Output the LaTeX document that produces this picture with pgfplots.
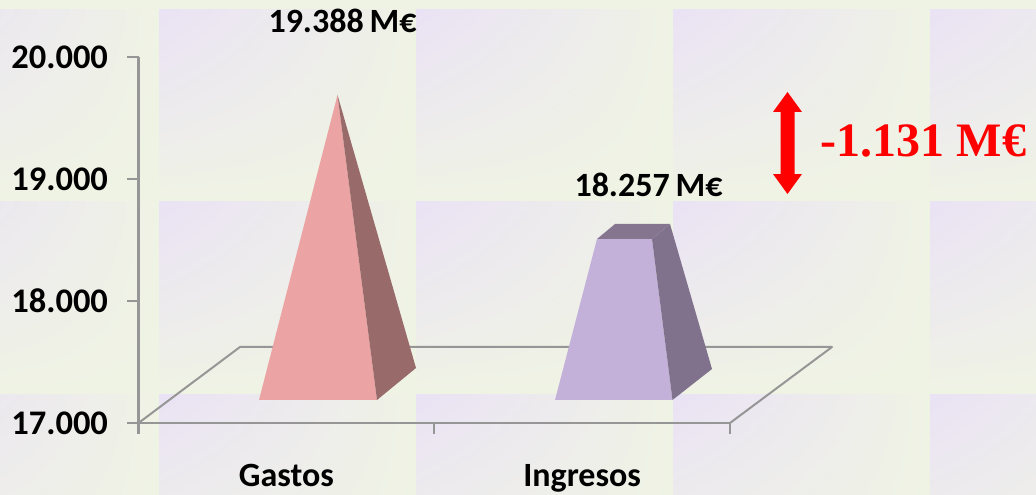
\documentclass[border=0pt]{standalone}
\usepackage{fontspec}
\setmainfont{Carlito}
\newfontfamily\serifb{Liberation Serif}
\usepackage{pgfplots}
\pgfplotsset{compat=1.18}
\usepgfplotslibrary{patchplots}
\definecolor{bggreen}{HTML}{EFF3E4}
\definecolor{bgmid}{HTML}{EEEEEA}
\definecolor{bglav}{HTML}{EAE2F5}
\definecolor{axgray}{HTML}{969696}
\definecolor{pinkf}{HTML}{EBA3A3}
\definecolor{pinks}{HTML}{996A6A}
\definecolor{purf}{HTML}{C3B1D9}
\definecolor{purs}{HTML}{80728C}
\definecolor{purt}{HTML}{85758F}
\newcommand\lab[1]{\fontsize{#1}{#1}\selectfont\bfseries}
\begin{document}
\begin{tikzpicture}[x=1pt,y=1pt]
\begin{axis}[
  at={(0pt,0pt)},anchor=south west,
  scale only axis,width=1036pt,height=495pt,
  xmin=0,xmax=1036,ymin=16409.8,ymax=20467.2,
  hide axis,
  point meta min=0,point meta max=1,
  colormap={bg}{color(0cm)=(bggreen) color(1cm)=(bgmid) color(4cm)=(bglav)},
]
\fill[bggreen] (axis cs:0,16409.8) rectangle (axis cs:1036,20467.2);
\addplot[patch,patch type=bilinear,shader=interp,forget plot,
  point meta=explicit] table[x=x,y=y,meta=c] {
x y c
-98 18811.5 0
159 18811.5 0
159 20393.4 0
-98 20393.4 1
159 18811.5 0
416 18811.5 0
416 20393.4 0
159 20393.4 1
416 18811.5 0
673 18811.5 0
673 20393.4 0
416 20393.4 1
673 18811.5 0
930 18811.5 0
930 20393.4 0
673 20393.4 1
930 18811.5 0
1187 18811.5 0
1187 20393.4 0
930 20393.4 1
-98 17229.5 0
159 17229.5 0
159 18811.5 0
-98 18811.5 1
159 17229.5 0
416 17229.5 0
416 18811.5 0
159 18811.5 1
416 17229.5 0
673 17229.5 0
673 18811.5 0
416 18811.5 1
673 17229.5 0
930 17229.5 0
930 18811.5 0
673 18811.5 1
930 17229.5 0
1187 17229.5 0
1187 18811.5 0
930 18811.5 1
-98 15647.5 0
159 15647.5 0
159 17229.5 0
-98 17229.5 1
159 15647.5 0
416 15647.5 0
416 17229.5 0
159 17229.5 1
416 15647.5 0
673 15647.5 0
673 17229.5 0
416 17229.5 1
673 15647.5 0
930 15647.5 0
930 17229.5 0
673 17229.5 1
930 15647.5 0
1187 15647.5 0
1187 17229.5 0
930 17229.5 1
};
% floor
\addplot[draw=axgray,line width=2pt,no markers,line join=round,forget plot] coordinates
 {(138.5,17000) (240,17623) (832,17623) (730,17000)};
% Gastos pyramid
\addplot[fill=pinkf,draw=none,no markers,forget plot] coordinates
 {(259,17188.5) (377,17188.5) (337.5,19688.5)} --cycle;
\addplot[fill=pinks,draw=none,no markers,forget plot] coordinates
 {(377,17188.5) (416,17450.8) (337.5,19688.5)} --cycle;
% Ingresos truncated pyramid
\addplot[fill=purf,draw=none,no markers,forget plot] coordinates
 {(555,17188.5) (672.5,17188.5) (652,18508.2) (597,18508.2)} --cycle;
\addplot[fill=purs,draw=none,no markers,forget plot] coordinates
 {(672.5,17188.5) (712,17442.6) (670,18631.1) (652,18508.2)} --cycle;
\addplot[fill=purt,draw=none,no markers,forget plot] coordinates
 {(597,18508.2) (652,18508.2) (670,18631.1) (615,18631.1)} --cycle;
% difference arrow
\addplot[fill=red,draw=none,no markers,forget plot] coordinates
 {(787.5,19713.1) (802,19549.2) (794.5,19549.2) (794.5,19040.9) (802,19040.9)
  (787.5,18877) (773,19040.9) (780.5,19040.9) (780.5,19549.2) (773,19549.2)} --cycle;
\node[anchor=base,inner sep=0pt] at (axis cs:342.5,20196.7) {\lab{34}19.388\hspace{.17em}M€};
\node[anchor=base,inner sep=0pt] at (axis cs:648.5,18852.5) {\lab{34}18.257\hspace{.17em}M€};
\node[anchor=base,inner sep=0pt,text=red] at (axis cs:923.5,19180.3) {\fontsize{48}{48}\selectfont\serifb\bfseries -1.131 M€};
\end{axis}
\begin{axis}[
  at={(138.5pt,72pt)},anchor=south west,
  scale only axis,width=591.5pt,height=366pt,
  xmin=0,xmax=2,ymin=17000,ymax=20000,
  axis x line=bottom,axis y line=left,
  x axis line style={draw=axgray,line width=2.2pt,-},
  y axis line style={draw=axgray,line width=2.2pt,-},
  every tick/.append style={draw=axgray,line width=2.2pt},
  tick align=outside,
  major tick length=11pt,
  xtick={0,1,2},xticklabels={Gastos,Ingresos},
  x tick label as interval=true,
  ytick={17000,18000,19000,20000},
  scaled y ticks=false,
  y tick label style={font=\lab{34.5},/pgf/number format/.cd,1000 sep={.},assume math mode=true,/tikz/.cd,xshift=-16pt},
  x tick label style={font=\lab{34},anchor=base,yshift=-52pt},
]
\end{axis}
\pgfresetboundingbox
\useasboundingbox (0pt,0pt) rectangle (1036pt,495pt);
\end{tikzpicture}
\end{document}
